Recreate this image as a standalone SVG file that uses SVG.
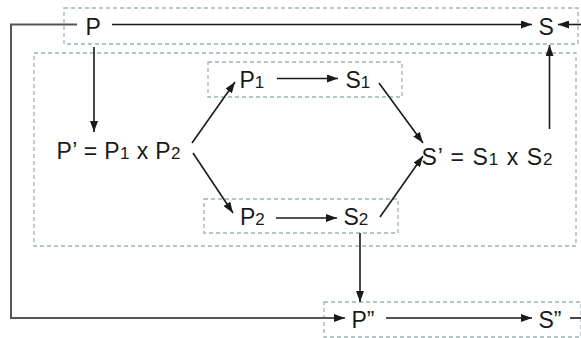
<svg xmlns="http://www.w3.org/2000/svg" width="581" height="338" viewBox="0 0 581 338">
<style>
.box{fill:none;stroke:#9cb2b8;stroke-width:1.3;stroke-dasharray:4 3}
.t{font-family:"Liberation Sans",Arial,sans-serif;font-size:23px;fill:#1a1a1a}
.sub{font-size:17px}
.a{fill:none;stroke:#1a1a1a;stroke-width:1.6}
.o{fill:none;stroke:#555;stroke-width:2}
</style>
<defs>
<marker id="ah" markerUnits="userSpaceOnUse" markerWidth="11" markerHeight="8" refX="11" refY="4" orient="auto">
<path d="M0,0 L11,4 L0,8 z" fill="#1a1a1a"/>
</marker>
</defs>
<rect x="0" y="0" width="581" height="338" fill="#fff"/>
<g id="group-top"><rect class="box" x="64" y="8" width="514" height="36"/></g>
<g id="group-inner"><rect class="box" x="34" y="53" width="542" height="193"/></g>
<g id="group-p1s1"><rect class="box" x="208" y="62" width="194" height="35"/></g>
<g id="group-p2s2"><rect class="box" x="204" y="199" width="194" height="34"/></g>
<g id="group-bottom"><rect class="box" x="324" y="302" width="257" height="35"/></g>
<g id="connectors">
<path class="a" d="M112 24.5 H532" marker-end="url(#ah)"/>
<path class="a" d="M581 24.5 H558" marker-end="url(#ah)"/>
<path class="a" d="M94 47 V132" marker-end="url(#ah)"/>
<path class="a" d="M192 143 L235 82" marker-end="url(#ah)"/>
<path class="a" d="M193 153 L233 213" marker-end="url(#ah)"/>
<path class="a" d="M277 78.5 H338" marker-end="url(#ah)"/>
<path class="a" d="M276 218 H337" marker-end="url(#ah)"/>
<path class="a" d="M379 83 L423 143" marker-end="url(#ah)"/>
<path class="a" d="M380 217 L423 156" marker-end="url(#ah)"/>
<path class="a" d="M549.5 129 V45" marker-end="url(#ah)"/>
<path class="a" d="M360 233 V302" marker-end="url(#ah)"/>
<path class="o" d="M77 24.5 H11 V318 H345" marker-end="url(#ah)"/>
<path class="a" d="M386 318 H532" marker-end="url(#ah)"/>
<path class="a" d="M570 318 H581"/>
</g>
<g id="node-P"><text class="t" x="85.5" y="35">P</text></g>
<g id="node-S"><text class="t" x="538.5" y="35">S</text></g>
<g id="node-P1"><text class="t" x="239.5" y="88">P<tspan class="sub">1</tspan></text></g>
<g id="node-S1"><text class="t" x="345.5" y="88">S<tspan class="sub">1</tspan></text></g>
<g id="node-Pprime"><text class="t" x="56.5" y="159" textLength="124" lengthAdjust="spacing">P’ = P<tspan class="sub">1</tspan> x P<tspan class="sub">2</tspan></text></g>
<g id="node-Sprime"><text class="t" x="421.5" y="164.5" textLength="131" lengthAdjust="spacing">S’ = S<tspan class="sub">1</tspan> x S<tspan class="sub">2</tspan></text></g>
<g id="node-P2"><text class="t" x="240" y="225">P<tspan class="sub">2</tspan></text></g>
<g id="node-S2"><text class="t" x="343.5" y="225">S<tspan class="sub">2</tspan></text></g>
<g id="node-Pdd"><text class="t" x="351.5" y="328">P”</text></g>
<g id="node-Sdd"><text class="t" x="538.5" y="328">S”</text></g>
</svg>
